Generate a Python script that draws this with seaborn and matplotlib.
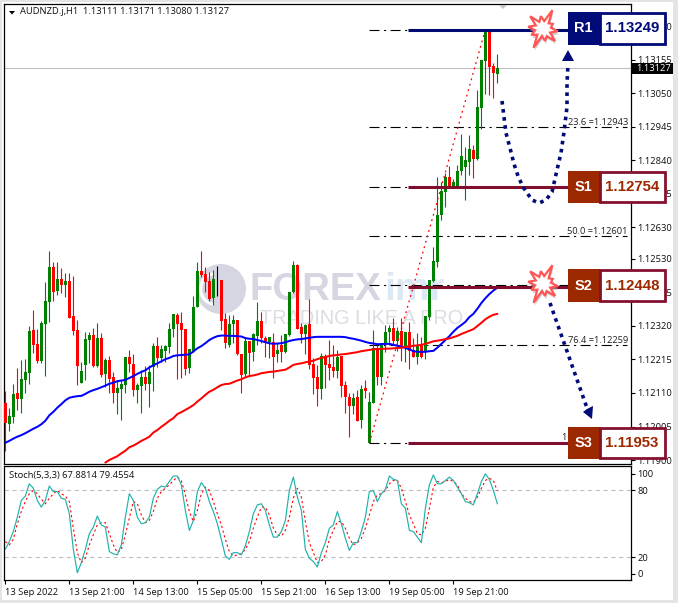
import numpy as np
import pandas as pd
import seaborn as sns
import matplotlib.pyplot as plt
from matplotlib.patches import Polygon, Rectangle, Circle, Wedge

# AUDNZD H1 candles, values are points (1e-5) above the base price
base_price = 1.119
open_pts = [178,113,136,209,191,251,274,407,364,311,427,496,606,530,566,549,562,451,407,242,298,376,392,296,383,270,313,260,211,224,
            236,324,301,219,232,260,238,293,358,319,343,355,410,454,428,411,288,343,480,592,582,562,507,566,564,442,360,425,439,332,
            270,373,340,390,437,383,369,369,332,360,339,392,525,611,416,395,425,300,259,223,326,300,291,279,326,234,196,170,198,125,
            226,54,180,350,261,364,400,415,373,404,350,402,345,322,360,340,449,562,622,767,841,886,857,858,906,919,935,971,944,1104,
            1251,1341,1235,1211]
high_pts = [216,162,238,287,313,316,420,470,412,437,559,655,619,621,601,585,587,577,439,308,402,402,413,428,399,319,326,277,251,251,
            324,345,332,242,282,295,298,366,385,360,360,428,458,460,465,411,348,515,620,655,606,590,596,608,564,460,454,454,439,332,
            384,373,397,496,465,389,387,397,366,392,395,528,624,614,428,426,505,319,298,334,332,376,360,345,326,249,211,211,219,235,
            251,214,407,360,366,423,423,444,418,444,402,434,381,397,384,451,564,669,888,872,898,921,880,924,1021,982,1020,987,1159,1254,
            1348,1341,1243,1271]
low_pts = [29,92,115,157,148,209,238,334,303,303,264,434,499,517,522,512,446,392,235,240,251,303,293,293,261,230,209,180,144,125,
           209,277,202,178,146,219,167,217,293,308,308,336,387,254,258,266,272,340,479,575,528,498,486,514,407,350,355,366,329,211,
           264,263,311,360,366,322,319,258,308,308,334,389,522,410,366,332,284,207,170,190,225,251,261,258,196,148,71,144,123,99,
           193,52,178,235,235,340,360,360,342,310,308,285,324,301,319,315,439,559,606,752,794,856,852,856,893,815,893,885,940,1037,
           1146,1144,1135,1180]
close_pts = [117,138,208,191,254,276,405,360,311,430,499,606,528,566,549,562,446,405,295,279,379,392,296,383,266,313,254,211,227,238,
             324,300,219,235,260,238,275,358,321,347,357,411,458,427,407,285,348,480,592,580,559,505,567,566,437,366,425,439,331,266,
             373,336,395,436,383,368,387,324,345,340,395,528,611,412,395,423,298,258,223,326,298,289,279,324,233,198,170,195,123,223,
             217,183,350,261,366,402,415,374,404,355,402,343,324,360,322,451,564,624,768,843,886,856,872,905,952,940,974,944,1105,1254,
             1342,1232,1214,1227]

# moving averages, same units
ma_blue = [54,60,67,73,78,84,91,98,104,112,123,140,151,164,175,187,195,198,200,201,207,214,219,223,228,233,239,242,247,249,
           251,257,263,270,276,281,290,297,303,309,316,320,326,328,329,330,331,340,350,357,366,376,383,388,390,390,389,389,388,387,
           382,380,379,376,373,369,366,364,365,366,369,373,376,378,379,381,383,385,386,386,386,386,386,386,386,385,382,380,377,374,
           370,367,365,363,363,364,364,361,358,355,351,347,341,339,339,339,341,342,352,364,376,388,402,414,423,433,448,458,474,492,
           507,520,531,540]
ma_red = [-8,0,6,12,21,29,40,45,52,60,66,73,86,94,104,113,123,131,144,150,157,164,172,183,193,204,214,220,228,235,
          238,239,244,249,253,259,263,265,268,272,274,276,277,279,281,283,290,298,301,303,306,309,311,316,320,323,326,328,329,331,
          332,334,336,338,341,343,345,347,348,348,349,349,350,351,352,354,356,358,359,361,364,368,372,374,376,379,381,385,389,395,
          400,405,410,420,430,441,449,455,458]
ma_red_start = 25

# stochastic (5,3,3)
stoch_main = [27,34,43,56,71,75,86,82,71,65,71,84,79,79,73,72,59,27,6,15,27,41,47,57,49,47,25,23,22,31,
              56,77,71,56,50,51,56,73,81,84,83,88,93,93,85,62,44,53,79,87,82,70,61,50,36,21,18,24,24,22,
              30,43,59,67,68,62,49,38,38,43,53,80,92,74,62,27,19,16,11,24,33,46,49,61,50,37,26,33,33,43,
              56,79,80,70,77,81,93,90,89,68,64,44,43,38,33,64,85,94,86,86,89,92,89,83,77,70,69,67,77,88,
              95,90,80,67.88]
stoch_signal = [34,31,36,50,61,70,77,80,77,72,68,73,77,80,77,75,70,46,24,15,19,31,40,49,51,51,41,31,24,27,
                40,55,70,68,58,51,53,61,73,79,82,85,89,92,89,76,61,52,62,77,83,80,70,59,49,36,25,21,22,23,
                27,34,46,56,65,65,58,46,40,39,44,56,73,82,74,52,33,24,15,16,22,36,44,52,52,46,37,31,33,37,
                46,58,70,76,77,80,86,89,89,82,70,58,50,41,40,46,64,83,88,87,88,90,88,85,77,73,70,69,74,82,
                89,91,89,79.46]

# levels
fib_levels = [1.13249, 1.12943, 1.12754, 1.12601, 1.12448, 1.12259, 1.11953]
fib_labels = {"23.6": 1.12943, "50.0": 1.12601, "76.4": 1.12259, "100.0": 1.11953}
level_navy = 1.13249
level_maroon = [1.12754, 1.12443, 1.11953]
last_price = 1.13127

price_ticks = [1.13260, 1.13155, 1.13050, 1.12945, 1.12840, 1.12735, 1.12630, 1.12530, 1.12425, 1.12320, 1.12215, 1.12110, 1.12005, 1.11900]
time_ticks = [0, 16, 32, 48, 64, 80, 96, 112]
time_labels = ["13 Sep 2022", "13 Sep 21:00", "14 Sep 13:00", "15 Sep 05:00", "15 Sep 21:00", "16 Sep 13:00", "19 Sep 05:00", "19 Sep 21:00"]
stoch_ticks = [95, 80, 20, 5]
stoch_tick_labels = ["100", "80", "20", "0"]

NAVY = "#000a78"
BROWN = "#9c2800"
MAROON = "#85102e"
FONT = "Open Sans"
SMALL = 6.75

sns.set_theme(style="white")
plt.rcParams["font.family"] = [FONT, "DejaVu Sans"]

W, H = 678, 603
fig = plt.figure(figsize=(W / 100, H / 100), dpi=100, facecolor="white")


def px_axes(z):
    a = fig.add_axes([0, 0, 1, 1], zorder=z)
    a.set_xlim(0, W)
    a.set_ylim(H, 0)
    a.axis("off")
    return a


def rect_px(x0, y0, x1, y1):
    return [x0 / W, 1 - y1 / H, (x1 - x0) / W, (y1 - y0) / H]


# watermark sits behind the candles
back = px_axes(-1)
back.add_patch(Circle((221, 289), 25, color="#d6d6e2", lw=0))
back.add_patch(Wedge((216, 289), 17, 100, 260, width=3, color="white", lw=0))
back.text(250, 290, "FOREX", color="#d6d6e2", fontsize=27.5, fontweight="bold", va="center", ha="left", family="Liberation Sans")
back.text(384, 290, "imr", color="#dce8f3", fontsize=28, fontweight="bold", va="center", ha="left", family="Liberation Sans")
back.text(260, 318, "TRADING LIKE A PRO", color="#dcdce4", fontsize=14.3, va="center", ha="left", family="Liberation Sans")

ax = fig.add_axes(rect_px(4, 4, 631, 464))
ax.patch.set_alpha(0)
sub = fig.add_axes(rect_px(4, 466, 631, 580))

xlim = (-0.33, 156.4)
ax.set_xlim(*xlim)
ax.set_ylim(base_price - 12.5e-5, base_price + 1429e-5)
sub.set_xlim(*xlim)
sub.set_ylim(-0.6, 102)

df = pd.DataFrame({"bar": np.arange(len(open_pts)),
                   "open": base_price + np.array(open_pts) * 1e-5,
                   "high": base_price + np.array(high_pts) * 1e-5,
                   "low": base_price + np.array(low_pts) * 1e-5,
                   "close": base_price + np.array(close_pts) * 1e-5,
                   "ma_blue": base_price + np.array(ma_blue) * 1e-5,
                   "stoch_main": stoch_main,
                   "stoch_signal": stoch_signal})
df["color"] = np.where(df["close"] > df["open"], "#008000", np.where(df["close"] < df["open"], "#ff0000", "black"))

# last price line and fibonacci levels
ax.axhline(last_price, color="#c0c0c0", lw=0.8, zorder=1)
ax.hlines(fib_levels, 90.9, 155.3, color="black", lw=0.8, linestyles=(0, (9, 4, 2, 4)), zorder=1)
for name, lev in fib_labels.items():
    ax.text(155.6, lev + 2e-5, f"{name} ={lev:.5f}", fontsize=6.7, ha="right", va="bottom", color="#202020", zorder=2)

# candles
ax.vlines(df["bar"], df["low"], df["high"], colors=df["color"], lw=0.8, zorder=3)
ax.bar(df["bar"], (df["close"] - df["open"]).abs().clip(lower=2e-5), bottom=df[["open", "close"]].min(axis=1),
       width=0.72, color=df["color"], lw=0, zorder=4)

# trend line of the fib
ax.plot([91, 120], [fib_levels[-1], fib_levels[0]], color="#ff0000", lw=0.9, ls=(0, (1.5, 3)), zorder=5)

sns.lineplot(data=df, x="bar", y="ma_blue", color="#0000ff", lw=1.45, ax=ax, zorder=6, errorbar=None)
red_bars = np.arange(ma_red_start, ma_red_start + len(ma_red))
sns.lineplot(x=red_bars, y=base_price + np.array(ma_red) * 1e-5, color="#ff0000", lw=1.45, ax=ax, zorder=6, errorbar=None)

# support / resistance lines
ax.hlines(level_navy, 100.7, 142, color="#000a70", lw=2.2, zorder=7)
ax.hlines(level_maroon, 100.7, 142, color="#7f0f2c", lw=2.2, zorder=7)

# price axis
ax.yaxis.tick_right()
ax.set_yticks(price_ticks)
ax.set_yticklabels([f"{t:.5f}" for t in price_ticks])
ax.set_xticks([])
ax.set_xlabel("")
ax.set_ylabel("")
ax.tick_params(axis="y", length=3, width=0.8, color="black", labelsize=SMALL, pad=1.5, labelcolor="#101010", right=True)

# stochastic window
sub.hlines([20, 80], *xlim, color="#c0c0c0", lw=0.8, linestyles=(0, (4, 3)), zorder=1)
sns.lineplot(data=df, x="bar", y="stoch_signal", color="#ff0000", lw=0.8, ls=(0, (2, 2.4)), ax=sub, zorder=2, errorbar=None)
sns.lineplot(data=df, x="bar", y="stoch_main", color="#20b2aa", lw=0.85, ax=sub, zorder=3, errorbar=None)
sub.yaxis.tick_right()
sub.set_yticks(stoch_ticks)
sub.set_yticklabels(stoch_tick_labels)
sub.set_xticks(time_ticks)
sub.set_xticklabels(time_labels, ha="left")
sub.set_xlabel("")
sub.set_ylabel("")
sub.tick_params(axis="y", length=3, width=0.8, color="black", labelsize=SMALL, pad=1.5, labelcolor="#101010", right=True)
sub.tick_params(axis="x", length=3, width=0.8, color="black", labelsize=SMALL, pad=3, labelcolor="#101010", bottom=True)
sub.text(0.008, 0.96, "Stoch(5,3,3) 67.8814 79.4554", transform=sub.transAxes, fontsize=SMALL, va="top", color="#101010", zorder=5)

for a in (ax, sub):
    for s in a.spines.values():
        s.set_color("black")
        s.set_linewidth(0.9)
        s.set_visible(True)

# overlay with the labels and drawn arrows
top = px_axes(10)
top.add_patch(Rectangle((0, 0), 2, H, color="#e4e4e4", lw=0))
top.add_patch(Rectangle((0, 0), W, 2, color="#e4e4e4", lw=0))
top.add_patch(Rectangle((0, 600), W, 3, color="#e4e4e4", lw=0))
top.add_patch(Rectangle((673, 0), 5, H, color="#e4e4e4", lw=0))
top.text(20, 12, "AUDNZD.j,H1  1.13111 1.13171 1.13080 1.13127", fontsize=SMALL, va="center", color="#101010")
top.add_patch(Polygon([(9, 11), (15, 11), (12, 14.5)], color="black", lw=0))
top.add_patch(Polygon([(499, 5), (507, 5), (503, 9)], color="#c4c4c4", lw=0))

# last price tag
top.add_patch(Rectangle((632, 63), 41, 10.5, color="black", lw=0))
top.text(636, 68.3, f"{last_price:.5f}", color="white", fontsize=SMALL, va="center")


def level_box(y0, y1, name, value, fill, edge, txt):
    top.add_patch(Rectangle((567.5, y0), 32.5, y1 - y0, color=fill, lw=0))
    top.add_patch(Rectangle((600, y0 + 1), 64.5, y1 - y0 - 2, facecolor="white", edgecolor=edge, lw=2))
    top.text(583.7, (y0 + y1) / 2, name, color="white", fontsize=10.5, fontweight="bold", ha="center", va="center", family="Liberation Sans")
    top.text(632, (y0 + y1) / 2, value, color=txt, fontsize=10.8, fontweight="bold", ha="center", va="center", family="Liberation Sans")


level_box(12, 44.5, "R1", "1.13249", NAVY, NAVY, NAVY)
level_box(171, 203, "S1", "1.12754", BROWN, MAROON, BROWN)
level_box(269, 302, "S2", "1.12448", BROWN, MAROON, BROWN)
level_box(427, 459, "S3", "1.11953", BROWN, MAROON, BROWN)


def burst(cx, cy):
    # irregular spikes, clockwise from the right
    radii = [15, 8, 17, 8, 12, 7, 21, 8, 13, 8, 15, 8, 18, 8, 13, 8, 21, 8, 11, 8]
    ang = np.linspace(0, 2 * np.pi, len(radii), endpoint=False) + 0.15
    pts = np.c_[cx + np.array(radii) * np.cos(ang), cy + np.array(radii) * np.sin(ang)]
    top.add_patch(Polygon(pts + [1, 3], facecolor="#a8a8a8", edgecolor="none", alpha=0.6))
    top.add_patch(Polygon(pts, facecolor="white", edgecolor="#ff5555", lw=1.6))


burst(543, 29)
burst(543, 284)

# dotted arrows
up_x = [502, 504, 506, 510, 514, 518, 523, 532, 539, 546, 552, 557, 561, 564, 567, 567, 568]
up_y = [101, 117, 133, 148, 164, 176, 187, 200, 203, 200, 192, 170, 153, 132, 107, 83, 65]
top.plot(up_x, up_y, color=NAVY, lw=2.6, ls=(0, (1, 1.25)))
top.add_patch(Polygon([(568, 50), (562, 61), (574, 61)], color=NAVY, lw=0))
top.plot([550, 587], [303, 408], color=NAVY, lw=2.6, ls=(0, (1, 1.25)))
top.add_patch(Polygon([(592, 419), (583, 412), (587, 409), (593, 406)], color=NAVY, lw=0))

plt.savefig("out.png", dpi=100, facecolor="white")
